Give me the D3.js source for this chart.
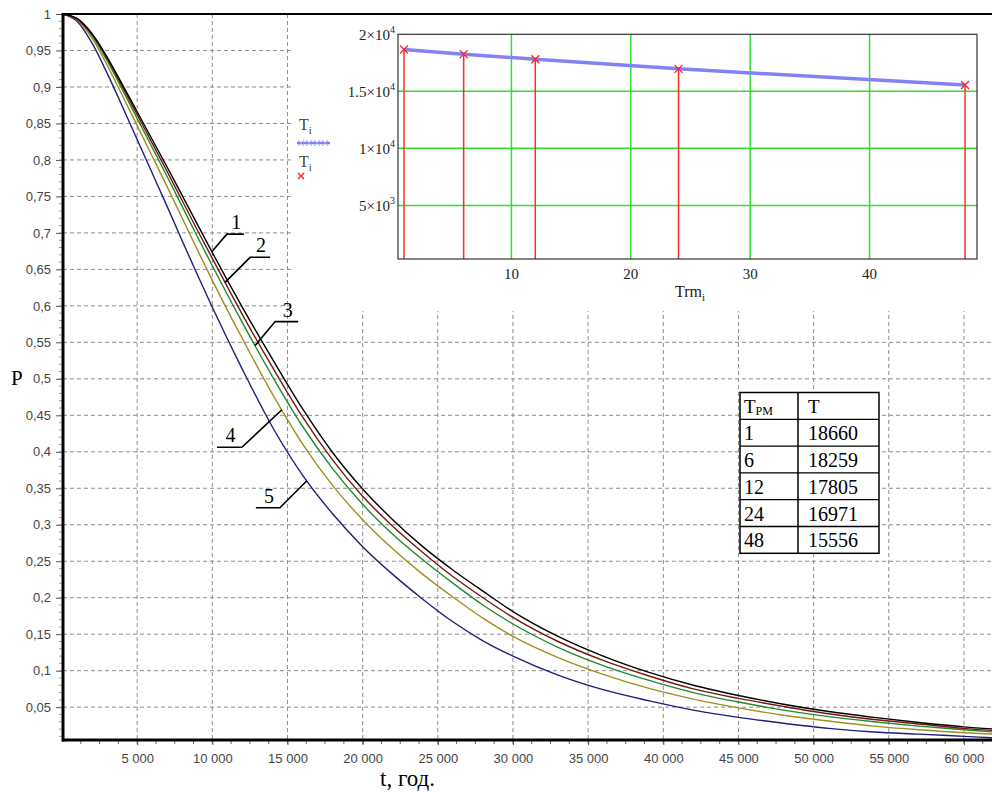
<!DOCTYPE html>
<html>
<head>
<meta charset="utf-8">
<style>
  body { margin: 0; background: #fff; }
  text { font-family: "Liberation Sans", Arial, sans-serif; }
  .serif { font-family: "Liberation Serif", "Times New Roman", serif; }
</style>
</head>
<body>
<svg width="992" height="792"></svg>
<script src="https://d3js.org/d3.v7.min.js"></script>
<script>

//START: data
// main chart: P(t) for five maintenance periods
const tYears = [0, 1000, 2000, 3000, 4000, 5000, 6000, 7000, 8000, 9000, 10000, 12000, 14000, 16000, 18000,
  20000, 22000, 24000, 26000, 28000, 30000, 33000, 36000, 39000, 42000, 45000, 48000, 51000, 54000, 57000, 60000, 62000];
const pCurve1 = [1.000, 0.994, 0.973, 0.941, 0.904, 0.866, 0.828, 0.790, 0.751, 0.712, 0.673, 0.598, 0.527, 0.459, 0.399,
  0.349, 0.307, 0.270, 0.238, 0.209, 0.181, 0.147, 0.120, 0.098, 0.080, 0.066, 0.054, 0.044, 0.036, 0.029, 0.023, 0.020];
const pCurve2 = [1.000, 0.993, 0.972, 0.939, 0.901, 0.862, 0.823, 0.784, 0.744, 0.704, 0.665, 0.588, 0.516, 0.448, 0.389,
  0.339, 0.298, 0.262, 0.229, 0.200, 0.173, 0.140, 0.114, 0.093, 0.075, 0.062, 0.051, 0.041, 0.033, 0.027, 0.021, 0.018];
const pCurve3 = [1.000, 0.993, 0.970, 0.936, 0.897, 0.857, 0.817, 0.777, 0.736, 0.695, 0.655, 0.577, 0.503, 0.435, 0.377,
  0.328, 0.287, 0.252, 0.220, 0.190, 0.164, 0.132, 0.107, 0.087, 0.070, 0.057, 0.046, 0.037, 0.030, 0.024, 0.019, 0.016];
const pCurve4 = [1.000, 0.992, 0.967, 0.930, 0.889, 0.847, 0.805, 0.763, 0.720, 0.677, 0.635, 0.555, 0.479, 0.411, 0.354,
  0.307, 0.267, 0.232, 0.201, 0.172, 0.147, 0.118, 0.095, 0.076, 0.061, 0.049, 0.039, 0.031, 0.024, 0.019, 0.015, 0.013];
const pCurve5 = [1.000, 0.990, 0.960, 0.919, 0.874, 0.828, 0.782, 0.736, 0.689, 0.643, 0.598, 0.513, 0.434, 0.368, 0.315,
  0.270, 0.232, 0.198, 0.167, 0.141, 0.120, 0.094, 0.074, 0.059, 0.046, 0.036, 0.028, 0.021, 0.016, 0.013, 0.010, 0.008];
const curveNames = ["1", "2", "3", "4", "5"];
const curveColors = ["#000000", "#7a1414", "#1f8a2e", "#a08f1c", "#1e1e82"];

const yTicks = d3.range(1, 21).map(d => d * 0.05);
const xTicks = d3.range(1, 13).map(d => d * 5000);

// inset chart + table: T vs Trm
const trm = [1, 6, 12, 24, 48];
const tMean = [18660, 18259, 17805, 16971, 15556];
const insetXTicks = [10, 20, 30, 40];
const insetYTicks = [[5000, "5", "3"], [10000, "1", "4"], [15000, "1.5", "4"], [20000, "2", "4"]];
//END: data

const svg = d3.select("svg"),
    width = +svg.attr("width");

const x = d3.scaleLinear().domain([0, 62000]).range([62, 994]);
const y = d3.scaleLinear().domain([0.005, 1]).range([740, 14]);
const locale = d3.formatLocale({decimal: ",", thousands: " ", grouping: [3], currency: ["", ""]});
const fmtX = locale.format(",");
const fmtY = v => d3.format(".2~f")(v).replace(".", ",");

//START: grid
svg.append("g").selectAll("line").data(yTicks.slice(0, -1)).join("line")
    .attr("x1", 63).attr("x2", width)
    .attr("y1", d => y(d)).attr("y2", d => y(d))
    .attr("stroke", "#8c8c8c").attr("stroke-dasharray", "4,3");
svg.append("g").selectAll("line").data(xTicks).join("line")
    .attr("x1", d => x(d)).attr("x2", d => x(d))
    .attr("y1", 14).attr("y2", 740)
    .attr("stroke", "#8c8c8c").attr("stroke-dasharray", "4,3");
//END: grid

// white area behind the inset
svg.append("rect").attr("x", 293).attr("y", 15).attr("width", width - 293).attr("height", 296).attr("fill", "#fff");

//START: curves
const series = [pCurve1, pCurve2, pCurve3, pCurve4, pCurve5];
const line = d3.line().x((d, i) => x(tYears[i])).y(d => y(d)).curve(d3.curveMonotoneX);
svg.append("defs").append("clipPath").attr("id", "plotclip")
  .append("rect").attr("x", 63).attr("y", 13).attr("width", width - 63).attr("height", 727);
svg.append("g").attr("clip-path", "url(#plotclip)")
  .selectAll("path").data(series.map((s, i) => ({s, i})).reverse()).join("path")
    .attr("d", d => line(d.s))
    .attr("fill", "none")
    .attr("stroke", d => curveColors[d.i])
    .attr("stroke-width", 1.4);
//END: curves

//START: axes
const yAxis = svg.append("g").attr("transform", "translate(63,0)")
    .call(d3.axisLeft(y).tickValues(yTicks).tickSize(7).tickPadding(5).tickFormat(fmtY));
yAxis.select(".domain").remove();
yAxis.selectAll("text").attr("font-size", 13).attr("fill", "#444");
yAxis.selectAll("line").attr("stroke", "#555");
svg.append("g").selectAll("line").data(d3.range(1, 100).map(d => d / 100)).join("line")
    .attr("x1", 59).attr("x2", 63).attr("y1", d => y(d)).attr("y2", d => y(d))
    .attr("stroke", "#888").attr("stroke-width", 0.8);

const xAxis = svg.append("g").attr("transform", "translate(0,740)")
    .call(d3.axisBottom(x).tickValues(xTicks).tickSize(5).tickPadding(9).tickFormat(fmtX));
xAxis.select(".domain").remove();
xAxis.selectAll("text").attr("font-size", 13).attr("fill", "#444");
xAxis.selectAll("line").attr("stroke", "#555");
svg.append("g").selectAll("line").data(d3.range(1, 50).map(d => d * 1250)).join("line")
    .attr("x1", d => x(d)).attr("x2", d => x(d)).attr("y1", 740).attr("y2", 744)
    .attr("stroke", "#666");

svg.append("line").attr("x1", 63).attr("x2", 63).attr("y1", 13).attr("y2", 741.5)
    .attr("stroke", "#000").attr("stroke-width", 3);
svg.append("line").attr("x1", 62).attr("x2", width).attr("y1", 740).attr("y2", 740)
    .attr("stroke", "#000").attr("stroke-width", 3);
svg.append("line").attr("x1", 62).attr("x2", width).attr("y1", 14).attr("y2", 14)
    .attr("stroke", "#000").attr("stroke-width", 2);

svg.append("text").attr("class", "serif").attr("x", 11).attr("y", 385)
    .attr("font-size", 21).text("P");
svg.append("text").attr("class", "serif").attr("x", 380).attr("y", 786)
    .attr("font-size", 23).text("t, год.");
//END: axes

//START: curve labels
const labelTipT = [9967, 10850, 12850, 14630, 16290];
const labelElbow = [[15, -17.5], [25, -25], [20, -24], [-40, 37.5], [-27, 27]];
const labelBar = [17, 20, 23, -25, -24];
function interpP(s, t) {
  const i = d3.bisectRight(tYears, t) - 1;
  const f = (t - tYears[i]) / (tYears[i + 1] - tYears[i]);
  return s[i] + f * (s[i + 1] - s[i]);
}
curveNames.forEach((name, i) => {
  const tx = x(labelTipT[i]), ty = y(interpP(series[i], labelTipT[i]));
  const ex = tx + labelElbow[i][0], ey = ty + labelElbow[i][1];
  const bx = ex + labelBar[i];
  svg.append("path").attr("d", `M${tx},${ty}L${ex},${ey}L${bx},${ey}`)
      .attr("fill", "none").attr("stroke", "#000").attr("stroke-width", 1.6);
  svg.append("text").attr("class", "serif").attr("x", (ex + bx) / 2 + 1).attr("y", ey - 5)
      .attr("text-anchor", "middle").attr("font-size", 20).text(name);
});
//END: curve labels

//START: inset
const ix = d3.scaleLinear().domain([0.5, 49]).range([398, 977]);
const iy = d3.scaleLinear().domain([0, 20000]).range([262.4, 34.3]);
const iBottom = 259;

svg.append("g").selectAll("line").data(insetXTicks).join("line")
    .attr("x1", d => ix(d)).attr("x2", d => ix(d)).attr("y1", iy(20000)).attr("y2", iBottom)
    .attr("stroke", "#2fe02f").attr("stroke-width", 1.5);
svg.append("g").selectAll("line").data(insetYTicks.slice(0, 3)).join("line")
    .attr("x1", ix(0.5)).attr("x2", ix(49)).attr("y1", d => iy(d[0])).attr("y2", d => iy(d[0]))
    .attr("stroke", "#2fe02f").attr("stroke-width", 1.5);

// stems
svg.append("g").selectAll("line").data(trm).join("line")
    .attr("x1", d => ix(d)).attr("x2", d => ix(d))
    .attr("y1", (d, i) => iy(tMean[i])).attr("y2", iBottom)
    .attr("stroke", "#ff2a2a").attr("stroke-width", 1.5);

const iline = d3.line().x((d, i) => ix(trm[i])).y(d => iy(d));
svg.append("path").attr("d", iline(tMean)).attr("fill", "none")
    .attr("stroke", "#8282f4").attr("stroke-width", 3.5);

const cross = (g, cx, cy, r, color, w) => {
  g.append("path").attr("d", `M${cx - r},${cy - r}L${cx + r},${cy + r}M${cx - r},${cy + r}L${cx + r},${cy - r}`)
      .attr("stroke", color).attr("stroke-width", w);
};
const marks = svg.append("g");
trm.forEach((d, i) => cross(marks, ix(d), iy(tMean[i]), 4, "#ff2020", 1.3));

svg.append("rect").attr("x", ix(0.5)).attr("y", iy(20000))
    .attr("width", ix(49) - ix(0.5)).attr("height", iBottom - iy(20000))
    .attr("fill", "none").attr("stroke", "#333").attr("stroke-width", 1.2);

svg.append("g").selectAll("text").data(insetXTicks).join("text")
    .attr("class", "serif").attr("x", d => ix(d)).attr("y", 279)
    .attr("text-anchor", "middle").attr("font-size", 15).attr("fill", "#222").text(d => d);

const iyl = svg.append("g").selectAll("text").data(insetYTicks).join("text")
    .attr("class", "serif").attr("x", 395).attr("y", d => iy(d[0]) + 6)
    .attr("text-anchor", "end").attr("font-size", 15).attr("fill", "#222");
iyl.append("tspan").text(d => d[1] + "×10");
iyl.append("tspan").attr("dy", -7).attr("font-size", 10).text(d => d[2]);

const trmLabel = svg.append("text").attr("class", "serif").attr("x", 675).attr("y", 297)
    .attr("font-size", 16).attr("fill", "#222");
trmLabel.append("tspan").text("Trm");
trmLabel.append("tspan").attr("dy", 4).attr("font-size", 11).text("i");

// legend
[[299, 130], [299, 167]].forEach(p => {
  const t = svg.append("text").attr("class", "serif").attr("x", p[0]).attr("y", p[1])
      .attr("font-size", 16).attr("fill", "#444");
  t.append("tspan").text("T");
  t.append("tspan").attr("dy", 4).attr("font-size", 11).text("i");
});
svg.append("line").attr("x1", 297).attr("x2", 330).attr("y1", 143).attr("y2", 143)
    .attr("stroke", "#7f7ff2").attr("stroke-width", 2.5);
const lg = svg.append("g");
[301, 309, 317, 325].forEach(cx => cross(lg, cx, 143, 3, "#a0a0ff", 1));
cross(lg, 301, 176, 3, "#ff2020", 1.3);
//END: inset

//START: table
const tbl = svg.append("g");
const tx0 = 740, tx1 = 798, tx2 = 879, ty0 = 392.5, rowH = 26.8;
tbl.append("rect").attr("x", tx0).attr("y", ty0).attr("width", tx2 - tx0).attr("height", rowH * 6)
    .attr("fill", "#fff").attr("stroke", "#000").attr("stroke-width", 1.5);
tbl.append("line").attr("x1", tx1).attr("x2", tx1).attr("y1", ty0).attr("y2", ty0 + rowH * 6)
    .attr("stroke", "#000").attr("stroke-width", 1.5);
tbl.selectAll("line.row").data(d3.range(1, 6)).join("line")
    .attr("x1", tx0).attr("x2", tx2).attr("y1", d => ty0 + d * rowH).attr("y2", d => ty0 + d * rowH)
    .attr("stroke", "#000").attr("stroke-width", 1.3);
const head = tbl.append("text").attr("class", "serif").attr("x", tx0 + 4).attr("y", ty0 + rowH - 6)
    .attr("font-size", 19);
head.append("tspan").text("T");
head.append("tspan").attr("dy", 2).attr("font-size", 12).text("PM");
tbl.append("text").attr("class", "serif").attr("x", tx1 + 10).attr("y", ty0 + rowH - 6)
    .attr("font-size", 19).text("T");
tbl.selectAll("text.c1").data(trm).join("text")
    .attr("class", "serif").attr("x", tx0 + 4).attr("y", (d, i) => ty0 + (i + 2) * rowH - 6)
    .attr("font-size", 20).text(d => d);
tbl.selectAll("text.c2").data(tMean).join("text")
    .attr("class", "serif").attr("x", tx1 + 10).attr("y", (d, i) => ty0 + (i + 2) * rowH - 6)
    .attr("font-size", 20).text(d => d);
//END: table

</script>
</body>
</html>
